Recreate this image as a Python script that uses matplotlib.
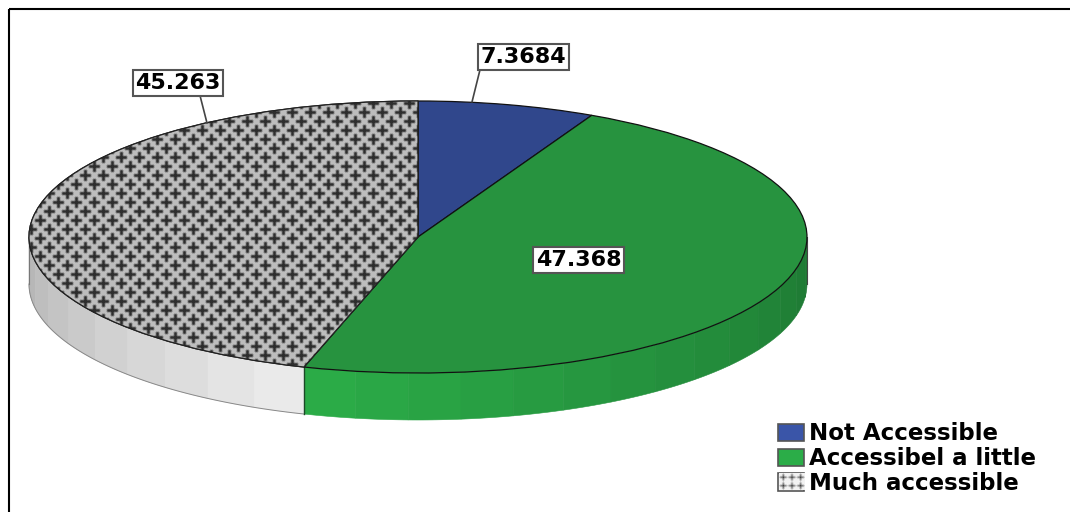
import numpy as np
import matplotlib
matplotlib.use("Agg")
import matplotlib.pyplot as plt
from matplotlib.patches import Patch, Polygon, Wedge

categories = ["Not Accessible", "Accessibel a little", "Much accessible"]
values = [7.3684, 47.368, 45.263]
value_labels = ["7.3684", "47.368", "45.263"]

top_colors = ["#30478c", "#27933f", "#d9d9d9"]
side_light = ["#3a55a8", "#2bad48", "#ededed"]
side_dark = ["#2a3f7c", "#1e7733", "#b2b2b2"]

# pie geometry in pixels
CX, CY = 418, 237
RX, RY = 389, 136
DEPTH = 47
W, H = 1070, 512


def px(x, y):
    # picture pixel -> unit circle coordinates of the pie
    return (x - CX) / RX, (CY - y) / RY


def plus_tile(tw, th, centers, arm, thick, bg, ink):
    yy, xx = np.mgrid[0:th, 0:tw]
    tile = np.full((th, tw), bg, dtype=float)
    for cy, cx in centers:
        dy = np.abs((yy - cy + th / 2) % th - th / 2)
        dx = np.abs((xx - cx + tw / 2) % tw - tw / 2)
        tile[((dx <= arm) & (dy <= thick)) | ((dy <= arm) & (dx <= thick))] = ink
    return (tile + np.roll(tile, 1, 0) + np.roll(tile, -1, 0) + np.roll(tile, 1, 1) + np.roll(tile, -1, 1)) / 5


fig = plt.figure(figsize=(W / 100, H / 100), dpi=100)
ax = fig.add_axes([0, 0, 1, 1])

wedges, _ = ax.pie(values, startangle=90, counterclock=False, radius=1,
                   colors=top_colors, frame=True,
                   wedgeprops=dict(edgecolor="#111111", linewidth=0.9))
ax.set_aspect("auto")
ax.axis("off")

# side wall, faceted
d = DEPTH / RY
FACET = 7.8
bounds = 90 - 360 * np.cumsum([0] + values) / np.sum(values)
front = bounds[2]
for i in range(len(values)):
    lo, hi = max(bounds[i + 1], -180), min(bounds[i], 0)
    if lo >= hi:
        continue
    # facets are counted outward from the front edge of the wall
    edges = front + FACET * np.arange(-40, 40)
    edges = np.unique(np.clip(edges, lo, hi))
    far = -180 if i == 2 else 0
    c0 = np.array(matplotlib.colors.to_rgb(side_light[i]))
    c1 = np.array(matplotlib.colors.to_rgb(side_dark[i]))
    for a, b in zip(edges[:-1], edges[1:]):
        t = np.radians(np.linspace(a, b, 12))
        xs = np.cos(t)
        ys = np.sin(t)
        pts = np.r_[np.c_[xs, ys], np.c_[xs[::-1], ys[::-1] - d]]
        f = abs((a + b) / 2 - front) / abs(far - front)
        col = c0 + (c1 - c0) * f
        ax.add_patch(Polygon(pts, closed=True, fc=col, ec=col, lw=0.4, zorder=0.5))

# wall outlines
t = np.radians(np.linspace(front, -180, 80))
ax.plot(np.cos(t), np.sin(t) - d, color="#888888", lw=0.7, zorder=0.6)
fx = np.cos(np.radians(front))
fy = np.sin(np.radians(front))
ax.plot([fx, fx], [fy, fy - d], color="#1c4a28", lw=1, zorder=0.7)
ax.plot([-1, -1], [0, -d], color="#777777", lw=0.8, zorder=0.7)
ax.plot([1, 1], [0, -d], color="#444444", lw=0.8, zorder=0.7)

# pattern of the third slice: staggered dark plus signs
tile = plus_tile(18, 18, [(4, 4), (13, 13)], 5.5, 1.5, 0.74, 0.18)
pattern = np.tile(tile, (H // 18 + 1, W // 18 + 1))[:H, :W]
x0, y0 = px(0, 0)
x1, y1 = px(W, H)
im = ax.imshow(pattern, cmap="gray", vmin=0, vmax=1, extent=[x0, x1, y1, y0],
               aspect="auto", interpolation="nearest", zorder=1.1)
im.set_clip_path(wedges[2])
wedges[2].set_zorder(1)
ax.add_patch(Wedge(wedges[2].center, wedges[2].r, wedges[2].theta1, wedges[2].theta2,
                   fc="none", ec="#222222", lw=0.9, zorder=1.2))

# value labels
box = dict(boxstyle="square,pad=0.12", fc="white", ec="#555555", lw=1.5)
txt = dict(ha="center", va="center", fontsize=16, fontweight="bold", color="black",
           family="DejaVu Sans", zorder=5)
ax.annotate(value_labels[0], xy=px(472, 102), xytext=px(523.5, 57), bbox=box,
            arrowprops=dict(arrowstyle="-", color="#444444", lw=1.2, shrinkA=0, shrinkB=0,
                            relpos=(0.0, 0.0)), **txt)
ax.annotate(value_labels[2], xy=px(207, 123), xytext=px(178, 83), bbox=box,
            arrowprops=dict(arrowstyle="-", color="#444444", lw=1.2, shrinkA=0, shrinkB=0,
                            relpos=(0.75, 0.0)), **txt)
ax.text(*px(578.5, 260), value_labels[1], bbox=box, **txt)

# legend
handles = [
    Patch(fc=side_light[0], ec="#555555", lw=1.2, label=categories[0]),
    Patch(fc=side_light[1], ec="#555555", lw=1.2, label=categories[1]),
    Patch(fc="white", ec="#555555", lw=1.2, label=categories[2]),
]
ax.legend(handles=handles, loc="lower left", bbox_to_anchor=(778 / W, 1 - 495 / H),
          frameon=False, borderpad=0, borderaxespad=0, handlelength=1.15, handleheight=0.78,
          handletextpad=0.22, labelspacing=0.08,
          prop=dict(family="DejaVu Sans", size=16.5, weight="bold"))

# pattern inside the third legend swatch
lx0, ly0 = px(779, 473)
lx1, ly1 = px(805, 490)
swatch = np.tile(plus_tile(9, 9, [(4, 4)], 3, 0.8, 0.95, 0.1), (2, 3))
ax.imshow(swatch, cmap="gray", vmin=0, vmax=1, extent=[lx0, lx1, ly1, ly0],
          aspect="auto", interpolation="bilinear", zorder=7)

# frame: only top and left
ax.plot(*zip(px(9, 9), px(W, 9)), color="black", lw=1.5, solid_capstyle="butt", zorder=6)
ax.plot(*zip(px(9, 9), px(9, H)), color="black", lw=1.5, solid_capstyle="butt", zorder=6)

ax.set_xlim(x0, x1)
ax.set_ylim(y1, y0)
fig.savefig("out.png", dpi=100)
